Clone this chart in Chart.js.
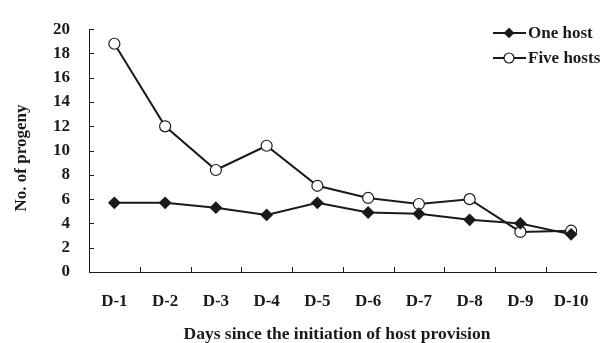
<!DOCTYPE html>
<html lang="en">
<head>
    <meta charset="UTF-8">
    <title>No. of progeny</title>
    <script src="https://cdn.jsdelivr.net/npm/chart.js"></script>
    <style>
        html, body { margin: 0; padding: 0; background: #fff; }
        .container-grafico { width: 608px; height: 343px; position: relative; }
    </style>
</head>
<body>
    <div class="container-grafico">
        <canvas id="graficoProgenie"></canvas>
    </div>

<script>
    // dados
    const dias = ['D-1', 'D-2', 'D-3', 'D-4', 'D-5', 'D-6', 'D-7', 'D-8', 'D-9', 'D-10'];
    const umHospedeiro = [5.7, 5.7, 5.3, 4.7, 5.7, 4.9, 4.8, 4.3, 4.0, 3.1];
    const cincoHospedeiros = [18.8, 12.0, 8.4, 10.4, 7.1, 6.1, 5.6, 6.0, 3.3, 3.4];
    const ticksY = [0, 2, 4, 6, 8, 10, 12, 14, 16, 18, 20];

    const fonte = 'Liberation Serif';
    const preto = '#1a1a1a';

    // marcas de escala para dentro + legenda + titulos dos eixos
    const extras = {
        id: 'extras',
        afterDraw(chart) {
            const ctx = chart.ctx;
            const x = chart.scales.x;
            const y = chart.scales.y;
            ctx.save();
            ctx.strokeStyle = preto;
            ctx.lineWidth = 1;
            ticksY.forEach(v => {
                const py = Math.round(y.getPixelForValue(v)) + 0.5;
                ctx.beginPath();
                ctx.moveTo(x.left, py);
                ctx.lineTo(x.left + 5, py);
                ctx.stroke();
            });
            const passo = (x.right - x.left) / dias.length;
            for (let i = 1; i < dias.length; i++) {
                const px = Math.round(x.left + passo * i) + 0.5;
                ctx.beginPath();
                ctx.moveTo(px, y.bottom);
                ctx.lineTo(px, y.bottom - 5);
                ctx.stroke();
            }

            // legenda
            chart.data.datasets.forEach((ds, i) => {
                const ly = 33 + i * 25;
                const mx = 509;
                ctx.strokeStyle = preto;
                ctx.lineWidth = 2;
                ctx.beginPath();
                ctx.moveTo(493, ly);
                ctx.lineTo(526, ly);
                ctx.stroke();
                ctx.fillStyle = ds.pointBackgroundColor;
                ctx.lineWidth = 1.2;
                ctx.beginPath();
                const r = ds.pointRadius - 0.5;
                if (ds.pointStyle === 'circle') {
                    ctx.arc(mx, ly, r, 0, Math.PI * 2);
                } else {
                    ctx.moveTo(mx, ly - r); ctx.lineTo(mx + r, ly);
                    ctx.lineTo(mx, ly + r); ctx.lineTo(mx - r, ly);
                    ctx.closePath();
                }
                ctx.fill();
                ctx.stroke();
                ctx.fillStyle = preto;
                ctx.font = 'bold 17px ' + fonte;
                ctx.textAlign = 'left';
                ctx.textBaseline = 'middle';
                ctx.fillText(ds.label, 528, ly + 1);
            });

            // titulo x
            ctx.font = 'bold 17.5px ' + fonte;
            ctx.textAlign = 'center';
            ctx.textBaseline = 'middle';
            ctx.fillText('Days since the initiation of host provision', 337, 334);

            // titulo y
            ctx.translate(22, 158);
            ctx.rotate(-Math.PI / 2);
            ctx.font = 'bold 17px ' + fonte;
            ctx.fillText('No. of progeny', 0, 0);
            ctx.restore();
        }
    };

    new Chart(document.getElementById('graficoProgenie'), {
        type: 'line',
        data: {
            labels: dias,
            datasets: [{
                label: 'One host',
                data: umHospedeiro,
                borderColor: preto,
                borderWidth: 2,
                pointStyle: 'rectRot',
                pointRadius: 5,
                pointBackgroundColor: preto,
                pointBorderColor: preto,
                tension: 0
            }, {
                label: 'Five hosts',
                data: cincoHospedeiros,
                borderColor: preto,
                borderWidth: 2,
                pointStyle: 'circle',
                pointRadius: 5.5,
                pointBorderWidth: 1.2,
                pointBackgroundColor: '#ffffff',
                pointBorderColor: preto,
                tension: 0
            }]
        },
        options: {
            responsive: true,
            maintainAspectRatio: false,
            animation: false,
            layout: { padding: { top: 20, right: 8, left: 0, bottom: 0 } },
            plugins: {
                legend: { display: false },
                tooltip: { enabled: false }
            },
            scales: {
                x: {
                    offset: true,
                    grid: { display: false, drawTicks: false },
                    border: { color: preto, width: 1 },
                    ticks: {
                        color: preto,
                        padding: 19,
                        font: { family: fonte, size: 17, weight: 'bold' }
                    },
                    afterFit(scale) { scale.height = 71; }
                },
                y: {
                    min: 0,
                    max: 20,
                    grid: { display: false, drawTicks: false },
                    border: { color: preto, width: 1 },
                    afterBuildTicks(scale) { scale.ticks = ticksY.map(v => ({ value: v })); },
                    ticks: {
                        color: preto,
                        padding: 19,
                        font: { family: fonte, size: 17, weight: 'bold' }
                    },
                    afterFit(scale) { scale.width = 89; }
                }
            }
        },
        plugins: [extras]
    });
</script>
</body>
</html>
